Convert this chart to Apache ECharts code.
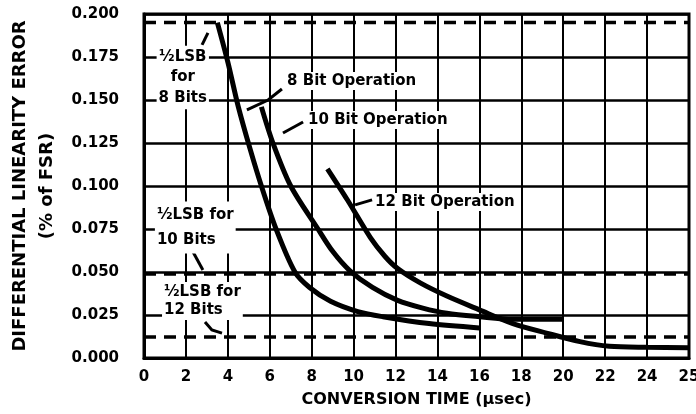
<!DOCTYPE html>
<html><head><meta charset="utf-8">
<script src="https://cdn.jsdelivr.net/npm/echarts@6/dist/echarts.min.js"></script>
<style>html,body{margin:0;padding:0;background:#fff}#c{width:696px;height:414px}</style>
</head><body><div id="c"></div>
<script>
// x axis: conversion time (µsec); last tick on the border is labelled "25" in the original
const xTickLabels = ['0','2','4','6','8','10','12','14','16','18','20','22','24','25'];
const xMax = 26;
const yTickStep = 0.025;

// 8 bit operation
const bit8X = [3.5, 4.0, 4.5, 5.05, 5.6, 6.3, 7.2, 7.9, 8.9, 10.2, 11.4, 13.6, 16];
const bit8Y = [0.195, 0.172, 0.146, 0.122, 0.100, 0.075, 0.050, 0.041, 0.033, 0.027, 0.024, 0.020, 0.0175];
// 10 bit operation
const bit10X = [5.6, 6.15, 7.0, 8.3, 9.0, 9.8, 10.9, 12.1, 13.3, 14.45, 16, 17.6, 20];
const bit10Y = [0.146, 0.125, 0.100, 0.075, 0.062, 0.051, 0.041, 0.0335, 0.029, 0.026, 0.024, 0.0225, 0.0225];
// 12 bit operation
const bit12X = [8.75, 9.7, 10.8, 11.5, 12.1, 13.2, 14.45, 16, 17.6, 19.2, 20.8, 22.2, 24, 26];
const bit12Y = [0.110, 0.092, 0.070, 0.059, 0.052, 0.0435, 0.036, 0.028, 0.020, 0.0145, 0.0095, 0.0068, 0.0062, 0.006];

// ½ LSB levels (% of FSR) for 8, 10, 12 bits
const lsbLevels = [0.195, 0.0488, 0.0122];

// annotations (data coordinates)
const annoTexts = [
  {t:'½LSB\nfor\n8 Bits', x:1.85, y:0.1631, align:'center', lh:20.5},
  {t:'½LSB for\n10 Bits', x:0.52, y:0.0759, align:'left', lh:25},
  {t:'½LSB for\n12 Bits', x:0.86, y:0.0331, align:'left', lh:18},
  {t:'8 Bit Operation', x:6.73, y:0.1610, align:'left', lh:16},
  {t:'10 Bit Operation', x:7.73, y:0.1384, align:'left', lh:16},
  {t:'12 Bit Operation', x:10.93, y:0.0907, align:'left', lh:16}
];
const leaders = [
  [[2.77,0.182],[3.05,0.189]],
  [[4.91,0.1442],[5.92,0.150],[6.58,0.1564]],
  [[6.63,0.1308],[7.59,0.1372]],
  [[10.07,0.0890],[10.88,0.0919]],
  [[2.34,0.0616],[2.81,0.0512]],
  [[2.91,0.0209],[3.24,0.0163],[3.72,0.0145]]
];

const FONT = 'DejaVu Sans';
const zip = (xs, ys) => xs.map((x,i)=>[x, ys[i]]);

const series = [];
lsbLevels.forEach(l => series.push({
  type:'line', data:[[0,l],[xMax,l]], symbol:'none', silent:true,
  lineStyle:{color:'#000', width:3.5, type:[12,8]}, z:3
}));
[[bit8X,bit8Y],[bit10X,bit10Y],[bit12X,bit12Y]].forEach(([xs,ys]) => series.push({
  type:'line', data:zip(xs,ys), symbol:'none', smooth:0.3, silent:true,
  lineStyle:{color:'#000', width:5}, z:4
}));

const chart = echarts.init(document.getElementById('c'), null, {renderer:'canvas'});
chart.setOption({
  animation:false,
  backgroundColor:'#fff',
  grid:{left:144, right:7, top:14, bottom:56, containLabel:false, outerBoundsMode:'none',
    show:true, borderColor:'#000', borderWidth:3, backgroundColor:'transparent'},
  xAxis:{
    type:'value', min:0, max:xMax, interval:2,
    axisLine:{show:true, lineStyle:{color:'#000', width:3}},
    axisTick:{show:false},
    splitLine:{show:true, lineStyle:{color:'#000', width:2}},
    axisLabel:{color:'#000', fontFamily:FONT, fontWeight:'bold', fontSize:15, margin:12,
      formatter:v => xTickLabels[Math.round(v/2)]},
    name:'CONVERSION TIME (µsec)', nameLocation:'middle', nameGap:34,
    nameTextStyle:{color:'#000', fontFamily:FONT, fontWeight:'bold', fontSize:16}
  },
  yAxis:{
    type:'value', min:0, max:0.2, interval:yTickStep,
    axisLine:{show:true, lineStyle:{color:'#000', width:3}},
    axisTick:{show:false},
    splitLine:{show:true, lineStyle:{color:'#000', width:2.5}},
    axisLabel:{color:'#000', fontFamily:FONT, fontWeight:'bold', fontSize:15, margin:25,
      formatter:v => v.toFixed(3)},
    name:'DIFFERENTIAL LINEARITY ERROR\n(% of FSR)', nameLocation:'middle', nameGap:82, nameRotate:90,
    nameTextStyle:{color:'#000', fontFamily:FONT, fontWeight:'bold', fontSize:18, lineHeight:27}
  },
  series
});

const px = p => chart.convertToPixel({gridIndex:0}, p);
const graphic = [];
leaders.forEach(pts => graphic.push({
  type:'polyline', shape:{points:pts.map(px)}, style:{stroke:'#000', lineWidth:3, fill:null}, z:10
}));
annoTexts.forEach(a => {
  const p = px([a.x, a.y]);
  graphic.push({
    type:'text', x:p[0], y:p[1], z:11,
    style:{text:a.t, fill:'#000', font:'bold 15px "' + FONT + '"', align:a.align, verticalAlign:'middle',
      lineHeight:a.lh, backgroundColor:'#fff', padding:[1,2]}
  });
});
chart.setOption({graphic});
</script>
</body></html>
